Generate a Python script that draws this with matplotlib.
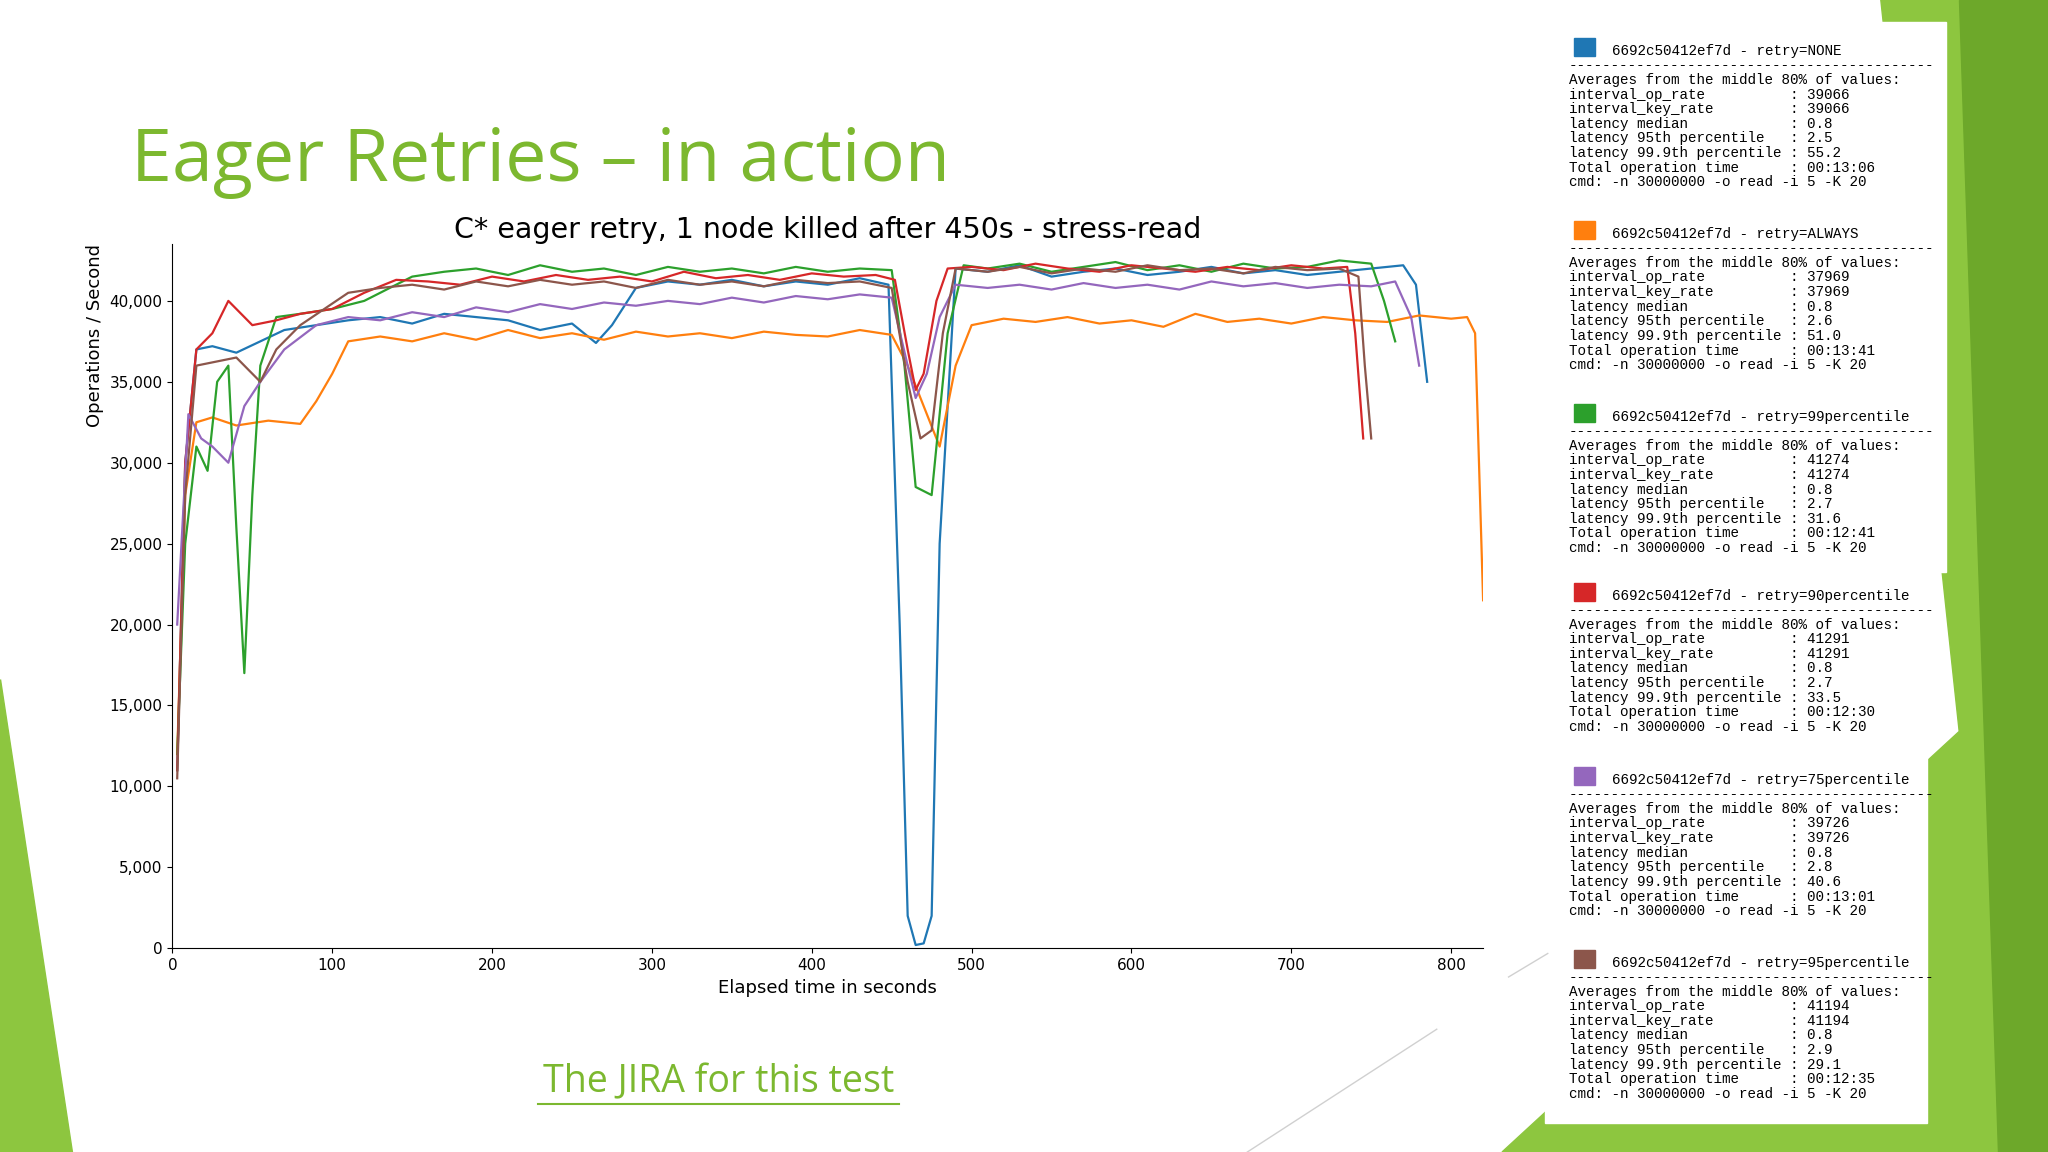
import matplotlib
matplotlib.use("Agg")
import matplotlib.pyplot as plt
from matplotlib.patches import Polygon, Rectangle
from matplotlib.ticker import FuncFormatter

# ---- data ----
t_none = [3, 8, 15, 25, 40, 55, 70, 90, 110, 130, 150, 170, 190, 210, 230, 250, 265, 275, 290, 310, 330,
          350, 370, 390, 410, 430, 448, 455, 460, 465, 470, 475, 480, 490, 510, 530, 550, 570, 590, 610,
          630, 650, 670, 690, 710, 730, 750, 770, 778, 785]
v_none = [11000, 30000, 37000, 37200, 36800, 37500, 38200, 38500, 38800, 39000, 38600, 39200, 39000, 38800,
          38200, 38600, 37400, 38500, 40800, 41200, 41000, 41300, 40900, 41200, 41000, 41400, 41000, 20000,
          2000, 200, 300, 2000, 25000, 42000, 41800, 42200, 41500, 41800, 42000, 41600, 41800, 42100, 41700,
          41900, 41600, 41800, 42000, 42200, 41000, 35000]
t_always = [3, 8, 15, 25, 40, 60, 80, 90, 100, 110, 130, 150, 170, 190, 210, 230, 250, 270, 290, 310, 330,
            350, 370, 390, 410, 430, 450, 460, 470, 480, 490, 500, 520, 540, 560, 580, 600, 620, 640, 660,
            680, 700, 720, 740, 760, 780, 800, 810, 815, 820]
v_always = [12000, 28000, 32500, 32800, 32300, 32600, 32400, 33800, 35500, 37500, 37800, 37500, 38000, 37600,
            38200, 37700, 38000, 37600, 38100, 37800, 38000, 37700, 38100, 37900, 37800, 38200, 37900, 36000,
            33500, 31000, 36000, 38500, 38900, 38700, 39000, 38600, 38800, 38400, 39200, 38700, 38900, 38600,
            39000, 38800, 38700, 39100, 38900, 39000, 38000, 21500]
t_p99 = [3, 8, 15, 22, 28, 35, 40, 45, 50, 55, 65, 80, 100, 120, 150, 170, 190, 210, 230, 250, 270, 290, 310,
         330, 350, 370, 390, 410, 430, 450, 458, 465, 475, 485, 495, 510, 530, 550, 570, 590, 610, 630, 650,
         670, 690, 710, 730, 750, 758, 765]
v_p99 = [12000, 25000, 31000, 29500, 35000, 36000, 26000, 17000, 28000, 36000, 39000, 39200, 39500, 40000,
         41500, 41800, 42000, 41600, 42200, 41800, 42000, 41600, 42100, 41800, 42000, 41700, 42100, 41800,
         42000, 41900, 36000, 28500, 28000, 38000, 42200, 42000, 42300, 41800, 42100, 42400, 41900, 42200,
         41800, 42300, 42000, 42100, 42500, 42300, 40000, 37500]
t_p90 = [3, 8, 15, 25, 35, 50, 65, 80, 100, 120, 140, 160, 180, 200, 220, 240, 260, 280, 300, 320, 340, 360,
         380, 400, 420, 440, 452, 460, 465, 470, 478, 485, 500, 520, 540, 560, 580, 600, 620, 640, 660, 680,
         700, 720, 735, 740, 745]
v_p90 = [11000, 30000, 37000, 38000, 40000, 38500, 38800, 39200, 39500, 40500, 41300, 41200, 41000, 41500,
         41200, 41600, 41300, 41500, 41200, 41800, 41400, 41600, 41300, 41700, 41500, 41600, 41300, 37000,
         34500, 35500, 40000, 42000, 42100, 41900, 42300, 42000, 41800, 42200, 42000, 41800, 42100, 41900,
         42200, 42000, 42100, 38000, 31500]
t_p75 = [3, 10, 18, 25, 35, 45, 55, 70, 90, 110, 130, 150, 170, 190, 210, 230, 250, 270, 290, 310, 330, 350,
         370, 390, 410, 430, 450, 460, 465, 472, 480, 490, 510, 530, 550, 570, 590, 610, 630, 650, 670, 690,
         710, 730, 750, 765, 775, 780]
v_p75 = [20000, 33000, 31500, 31000, 30000, 33500, 35000, 37000, 38500, 39000, 38800, 39300, 39000, 39600,
         39300, 39800, 39500, 39900, 39700, 40000, 39800, 40200, 39900, 40300, 40100, 40400, 40200, 36000,
         34000, 35500, 39000, 41000, 40800, 41000, 40700, 41100, 40800, 41000, 40700, 41200, 40900, 41100,
         40800, 41000, 40900, 41200, 39000, 36000]
t_p95 = [3, 8, 15, 25, 40, 50, 55, 65, 80, 95, 110, 130, 150, 170, 190, 210, 230, 250, 270, 290, 310, 330,
         350, 370, 390, 410, 430, 450, 460, 468, 475, 482, 490, 510, 530, 550, 570, 590, 610, 630, 650, 670,
         690, 710, 730, 742, 746, 750]
v_p95 = [10500, 28000, 36000, 36200, 36500, 35500, 35000, 37000, 38500, 39500, 40500, 40800, 41000, 40700,
         41200, 40900, 41300, 41000, 41200, 40800, 41300, 41000, 41200, 40900, 41300, 41100, 41200, 40800,
         35000, 31500, 32000, 38000, 42000, 41800, 42100, 41700, 42000, 41800, 42200, 41900, 42000, 41700,
         42100, 41900, 42000, 41500, 36000, 31500]

series = [
    (t_none, v_none, "#1f77b4"),
    (t_always, v_always, "#ff7f0e"),
    (t_p99, v_p99, "#2ca02c"),
    (t_p90, v_p90, "#d62728"),
    (t_p75, v_p75, "#9467bd"),
    (t_p95, v_p95, "#8c564b"),
]

legend_names = ["NONE", "ALWAYS", "99percentile", "90percentile", "75percentile", "95percentile"]
op_rates = ["39066", "37969", "41274", "41291", "39726", "41194"]
lat_median = ["0.8", "0.8", "0.8", "0.8", "0.8", "0.8"]
lat_95 = ["2.5", "2.6", "2.7", "2.7", "2.8", "2.9"]
lat_999 = ["55.2", "51.0", "31.6", "33.5", "40.6", "29.1"]
total_time = ["00:13:06", "00:13:41", "00:12:41", "00:12:30", "00:13:01", "00:12:35"]

GREEN = "#7cb82f"
W, H = 1568, 882  # layout coords

fig = plt.figure(figsize=(20.48, 11.52), dpi=100)
fig.patch.set_facecolor("white")

def fx(x):
    return x / W

def fy(y):
    return 1 - y / H

# background decoration
bg = fig.add_axes([0, 0, 1, 1])
bg.set_xlim(0, W)
bg.set_ylim(H, 0)
bg.axis("off")
bg.add_patch(Polygon([(1440, 0), (1568, 0), (1568, 882), (1150, 882), (1500, 560)], color="#8dc63f", zorder=0))
bg.add_patch(Polygon([(1500, 0), (1568, 0), (1568, 882), (1530, 882)], color="#6da82a", zorder=0))
bg.add_patch(Polygon([(0, 520), (0, 882), (55, 882)], color="#8dc63f", zorder=0))
bg.plot([955, 1100], [882, 788], color="#d0d0d0", lw=1)
bg.plot([1155, 1185], [748, 730], color="#d0d0d0", lw=1)
bg.add_patch(Rectangle((1183, 17), 307, 421, color="white", zorder=1))
bg.add_patch(Rectangle((1183, 438), 292, 422, color="white", zorder=1))

fig.text(fx(100), fy(124), "Eager Retries \u2013 in action", color=GREEN, fontsize=53,
         family="Open Sans", va="center", ha="left")
fig.text(fx(550), fy(829), "The JIRA for this test", color=GREEN, fontsize=27,
         family="Open Sans", va="center", ha="center")
bg.plot([412, 688], [845, 845], color=GREEN, lw=1.5)

# main chart
ax = fig.add_axes([fx(132), fy(726), (1135.5 - 132) / W, (726 - 187) / H])
for t, v, c in series:
    ax.plot(t, v, color=c, lw=1.6)
ax.set_xlim(0, 820)
ax.set_ylim(0, 43500)
ax.set_xticks(range(0, 801, 100))
ax.set_yticks(range(0, 40001, 5000))
ax.yaxis.set_major_formatter(FuncFormatter(lambda v, p: f"{int(v):,}"))
for s in ("top", "right"):
    ax.spines[s].set_visible(False)
ax.tick_params(labelsize=11)
ax.set_xlabel("Elapsed time in seconds", fontsize=13)
ax.set_ylabel("Operations / Second", fontsize=13, loc="top")
ax.set_title("C* eager retry, 1 node killed after 450s - stress-read", fontsize=20.5, pad=-2)

# legend panel
headers_y = [38, 178, 318, 455, 596, 736]
for i, hy in enumerate(headers_y):
    color = series[i][2]
    bg.add_patch(Rectangle((1205, hy - 9), 16, 14, color=color, zorder=2))
    bg.text(1234, hy + 1, f"6692c50412ef7d - retry={legend_names[i]}", fontsize=10.3,
            family="Liberation Mono", va="center", zorder=3)
    lines = [
        "-" * 43,
        "Averages from the middle 80% of values:",
        f"interval_op_rate          : {op_rates[i]}",
        f"interval_key_rate         : {op_rates[i]}",
        f"latency median            : {lat_median[i]}",
        f"latency 95th percentile   : {lat_95[i]}",
        f"latency 99.9th percentile : {lat_999[i]}",
        f"Total operation time      : {total_time[i]}",
        "cmd: -n 30000000 -o read -i 5 -K 20",
    ]
    for j, line in enumerate(lines):
        bg.text(1201, hy + 12 + j * 11.2, line, fontsize=10.3, family="Liberation Mono",
                va="center", zorder=3)

fig.savefig("out.png", dpi=100)
